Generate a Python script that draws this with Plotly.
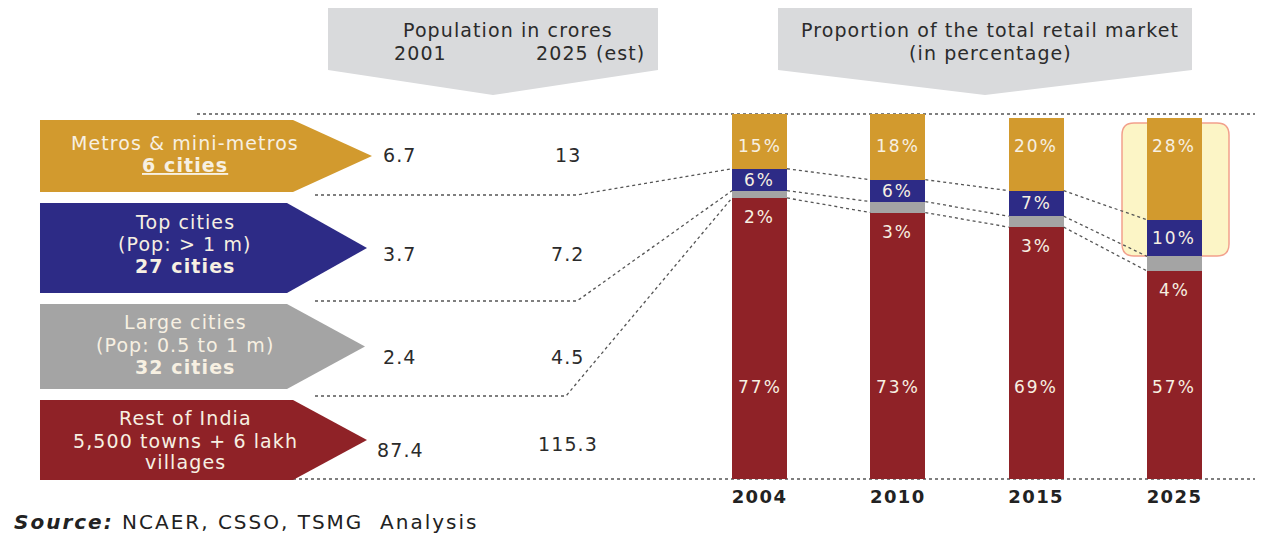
import plotly.graph_objects as go

# ---------------- data ----------------
years = ["2004", "2010", "2015", "2025"]
metros = [15, 18, 20, 28]
top_cities = [6, 6, 7, 10]
large_cities = [2, 3, 3, 4]
rest_india = [77, 73, 69, 57]

seg_lines = [
    ["Metros & mini-metros", "<u><b>6 cities</b></u>"],
    ["Top cities", "(Pop: &gt; 1 m)", "<b>27 cities</b>"],
    ["Large cities", "(Pop: 0.5 to 1 m)", "<b>32 cities</b>"],
    ["Rest of India", "5,500 towns + 6 lakh", "villages"],
]
pop_2001 = ["6.7", "3.7", "2.4", "87.4"]
pop_2025 = ["13", "7.2", "4.5", "115.3"]

header_pop = ["Population in crores", "2001", "2025 (est)"]
header_ret = ["Proportion of the total retail market", "(in percentage)"]
source_bold = "Source:"
source_rest = "NCAER, CSSO, TSMG&nbsp; Analysis"

# ---------------- style / layout constants ----------------
C_OR = "#D29A2E"
C_BL = "#2D2B86"
C_GR = "#A4A4A4"
C_RD = "#8F2227"
C_BOX = "#D9DADC"
C_TXT = "#2b2b2b"
C_LBL = "#F7F0E2"
C_DOT = "#555555"
FONT = "DejaVu Sans"

W, H = 1261, 534
PLOT_B = 479      # pixel y of bar baseline
BAR_TOP = 114     # pixel y of 100 %
X0, STEP, BARW = 759.5, 138.33, 55


def dx(xp):
    return (xp - X0) / STEP


def dy(yp):
    return (PLOT_B - yp) * 100.0 / (PLOT_B - BAR_TOP)


def fx(xp):
    return xp / W


def fy(yp):
    return (PLOT_B - yp) / PLOT_B


def ls(s, sp=1.1):
    return f'<span style="letter-spacing:{sp}px">{s}</span>'


def path(pts, close=True):
    s = "M " + " L ".join(f"{fx(x):.5f},{fy(y):.5f}" for x, y in pts)
    return s + (" Z" if close else "")


idx = list(range(len(years)))
hw = BARW / STEP / 2

fig = go.Figure()
for vals, col in [(rest_india, C_RD), (large_cities, C_GR), (top_cities, C_BL), (metros, C_OR)]:
    fig.add_trace(go.Bar(x=idx, y=vals, marker=dict(color=col, line=dict(width=0)),
                         width=BARW / STEP, hoverinfo="skip"))

b_red = rest_india
b_grey = [r + g for r, g in zip(rest_india, large_cities)]
b_blue = [r + g + t for r, g, t in zip(rest_india, large_cities, top_cities)]

# connectors between bars
for b in (b_blue, b_grey, b_red):
    xs, ys = [], []
    for i in range(len(idx) - 1):
        xs += [idx[i] + hw, idx[i + 1] - hw, None]
        ys += [b[i], b[i + 1], None]
    fig.add_trace(go.Scatter(x=xs, y=ys, mode="lines", hoverinfo="skip",
                             line=dict(color=C_DOT, width=1.3, dash="dot")))

# connectors from the left categories to the first bar
for yp, xk, b in [(195, 577, b_blue[0]), (301, 577, b_grey[0]), (396, 566, b_red[0])]:
    fig.add_trace(go.Scatter(x=[dx(315), dx(xk), idx[0] - hw], y=[dy(yp), dy(yp), b],
                             mode="lines", hoverinfo="skip",
                             line=dict(color=C_DOT, width=1.3, dash="dot")))

shapes = []
# header chevrons
shapes.append(dict(type="path", xref="paper", yref="paper", layer="below",
                   path=path([(328, 8), (658, 8), (658, 70), (493, 95), (328, 70)]),
                   fillcolor=C_BOX, line=dict(width=0)))
shapes.append(dict(type="path", xref="paper", yref="paper", layer="below",
                   path=path([(778, 8), (1192, 8), (1192, 70), (985, 95), (778, 70)]),
                   fillcolor=C_BOX, line=dict(width=0)))
# dotted guide lines
shapes.append(dict(type="line", xref="paper", yref="paper", layer="below",
                   x0=fx(197), x1=fx(1255), y0=fy(114), y1=fy(114),
                   line=dict(color=C_DOT, width=1.3, dash="dot")))
shapes.append(dict(type="line", xref="paper", yref="paper", layer="below",
                   x0=fx(293), x1=fx(1255), y0=fy(479), y1=fy(479),
                   line=dict(color=C_DOT, width=1.3, dash="dot")))
# highlight box
x1, x2, y1, y2, r = 1122, 1229, 123, 256, 12
hp = (f"M {fx(x1 + r)},{fy(y1)} L {fx(x2 - r)},{fy(y1)} Q {fx(x2)},{fy(y1)} {fx(x2)},{fy(y1 + r)} "
      f"L {fx(x2)},{fy(y2 - r)} Q {fx(x2)},{fy(y2)} {fx(x2 - r)},{fy(y2)} "
      f"L {fx(x1 + r)},{fy(y2)} Q {fx(x1)},{fy(y2)} {fx(x1)},{fy(y2 - r)} "
      f"L {fx(x1)},{fy(y1 + r)} Q {fx(x1)},{fy(y1)} {fx(x1 + r)},{fy(y1)} Z")
shapes.append(dict(type="path", xref="paper", yref="paper", layer="below", path=hp,
                   fillcolor="#FCF5C6", line=dict(color="#F2A08C", width=1.5)))
# segment arrows
arrows = [
    (C_OR, 120, 192, 293, 372),
    (C_BL, 203, 293, 287, 367),
    (C_GR, 304, 389, 287, 365),
    (C_RD, 400, 480, 293, 367),
]
for col, t, b_, re_, tip in arrows:
    shapes.append(dict(type="path", xref="paper", yref="paper", layer="below",
                       path=path([(40, t), (re_, t), (tip, (t + b_) / 2), (re_, b_), (40, b_)]),
                       fillcolor=col, line=dict(width=0)))

ann = []


def A(x, y, text, size=19, color=C_TXT, xanchor="center", sp=1.1, xref="paper", yref="paper"):
    ann.append(dict(x=x, y=y, xref=xref, yref=yref, text=ls(text, sp), showarrow=False,
                    xanchor=xanchor, yanchor="middle",
                    font=dict(family=FONT, size=size, color=color)))


# headers
A(fx(508), fy(30), header_pop[0])
A(fx(420), fy(53), header_pop[1])
A(fx(590), fy(53), header_pop[2])
A(fx(990), fy(30), header_ret[0])
A(fx(990), fy(53), header_ret[1])

# arrow texts
line_y = [[143, 165], [222, 244, 266], [322, 345, 367], [418, 441, 462]]
for lines, ys in zip(seg_lines, line_y):
    for t, yp in zip(lines, ys):
        A(fx(185), fy(yp), t, color=C_LBL)

# population numbers
for v1, v2, y_a, y_b in zip(pop_2001, pop_2025, [155, 254, 357, 450], [155, 254, 357, 444]):
    A(fx(400), fy(y_a), v1)
    A(fx(568), fy(y_b), v2)

# bar labels
for i in idx:
    A(i, 91.2, f"{metros[i]}%", size=17, color=C_LBL, sp=2, xref="x", yref="y")
    A(i, b_grey[i] + top_cities[i] / 2, f"{top_cities[i]}%", size=17, color=C_LBL, sp=2,
      xref="x", yref="y")
    A(i, rest_india[i] - 5.2, f"{large_cities[i]}%", size=17, color=C_LBL, sp=2,
      xref="x", yref="y")
    A(i, 25.2, f"{rest_india[i]}%", size=17, color=C_LBL, sp=2, xref="x", yref="y")

# source
ann.append(dict(x=fx(12), y=fy(522), xref="paper", yref="paper", showarrow=False,
                xanchor="left", yanchor="middle",
                text=ls(f"<b><i>{source_bold}</i></b> {source_rest}", 2),
                font=dict(family=FONT, size=20, color="#222222")))

fig.update_layout(
    width=W, height=H,
    margin=dict(l=0, r=0, t=0, b=H - PLOT_B, pad=0),
    paper_bgcolor="white", plot_bgcolor="rgba(0,0,0,0)",
    barmode="stack", showlegend=False, hovermode=False,
    shapes=shapes, annotations=ann,
    xaxis=dict(range=[dx(0), dx(W)], tickvals=idx, ticktext=[ls(y, 1.4) for y in years],
               tickfont=dict(family=FONT, size=18, color="#222222", weight="bold"),
               ticks="outside", ticklen=1, tickcolor="rgba(0,0,0,0)",
               showgrid=False, zeroline=False, showline=False, fixedrange=True),
    yaxis=dict(range=[0, dy(0)], visible=False, showgrid=False, zeroline=False,
               fixedrange=True),
)

fig.write_html("out.html")
